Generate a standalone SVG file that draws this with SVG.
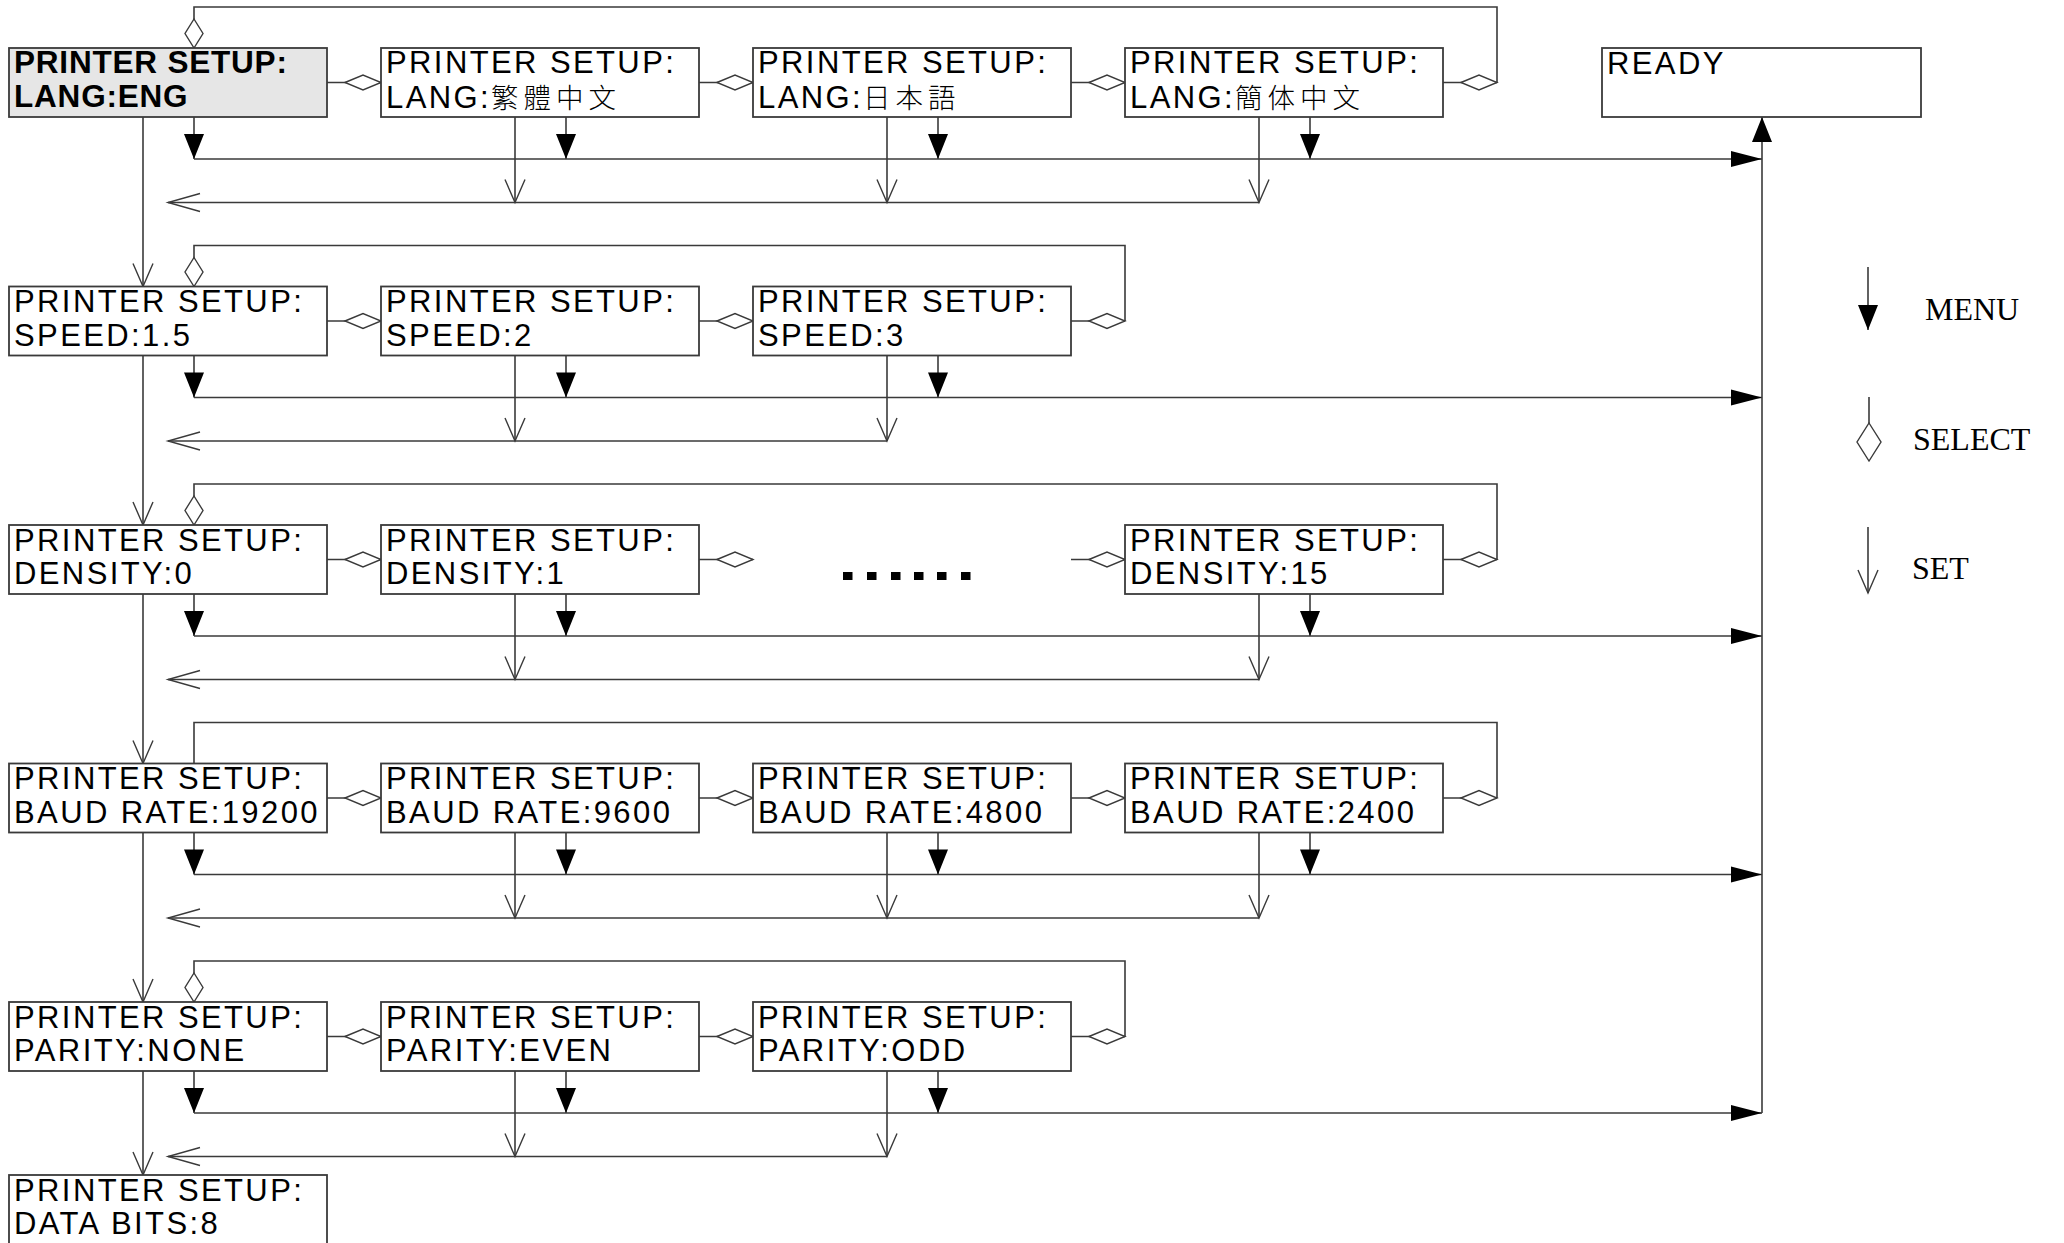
<svg xmlns="http://www.w3.org/2000/svg" width="2064" height="1243" viewBox="0 0 2064 1243">
<style>
.bg{fill:#ffffff}
.box{fill:#ffffff;stroke:#3a3a3a;stroke-width:1.8}
.sel{fill:#e6e6e6}
.t{font-family:"Liberation Sans","Noto Sans CJK TC",sans-serif;font-size:31px;letter-spacing:2.4px;fill:#000}
.cjk{font-size:27.5px;letter-spacing:5px;font-weight:300}
.tb{font-family:"Liberation Sans",sans-serif;font-size:31.5px;font-weight:bold;letter-spacing:0.8px;fill:#000}
.lg{font-family:"Liberation Serif",serif;font-size:32px;fill:#000}
.ln{fill:none;stroke:#3a3a3a;stroke-width:1.6}
.dia{marker-end:url(#dia)}
.diav{marker-end:url(#diav)}
.menu{marker-end:url(#menuHead)}
.menul{marker-end:url(#menuLong)}
.set{marker-end:url(#setHead)}
.ret{marker-end:url(#retHead)}
.dot{fill:#000}
</style>
<defs>
<marker id="dia" markerUnits="userSpaceOnUse" markerWidth="38" markerHeight="17" refX="36" refY="7.5" orient="auto" overflow="visible">
<path d="M0,7.5 L18,0 L36,7.5 L18,15 Z" fill="#fff" stroke="#3a3a3a" stroke-width="1.4"/>
</marker>
<marker id="diav" markerUnits="userSpaceOnUse" markerWidth="30" markerHeight="20" refX="29" refY="9" orient="auto" overflow="visible">
<path d="M0,9 L14.5,0 L29,9 L14.5,18 Z" fill="#fff" stroke="#3a3a3a" stroke-width="1.4"/>
</marker>
<marker id="menuHead" markerUnits="userSpaceOnUse" markerWidth="25" markerHeight="20" refX="25" refY="10" orient="auto" overflow="visible">
<path d="M0,0 L25,10 L0,20 Z" fill="#000"/>
</marker>
<marker id="menuLong" markerUnits="userSpaceOnUse" markerWidth="31" markerHeight="16" refX="31" refY="8" orient="auto" overflow="visible">
<path d="M0,0 L31,8 L0,16 Z" fill="#000"/>
</marker>
<marker id="setHead" markerUnits="userSpaceOnUse" markerWidth="24" markerHeight="22" refX="23" refY="10" orient="auto" overflow="visible">
<path d="M0,0 L23,10 L0,20" fill="none" stroke="#3a3a3a" stroke-width="1.4"/>
</marker>
<marker id="retHead" markerUnits="userSpaceOnUse" markerWidth="33" markerHeight="20" refX="32" refY="9" orient="auto" overflow="visible">
<path d="M0,0 L32,9 L0,18" fill="none" stroke="#3a3a3a" stroke-width="1.4"/>
</marker>
</defs>
<rect class="bg" x="0" y="0" width="2064" height="1243"/>

<g id="connectors">
<!-- row 1 -->
<path class="ln dia" d="M327,82.5 H381"/>
<path class="ln dia" d="M699,82.5 H753"/>
<path class="ln dia" d="M1071,82.5 H1125"/>
<path class="ln dia" d="M1443,82.5 H1497"/>
<path class="ln diav" d="M1497,82.5 V7 H194 V48"/>
<path class="ln menu" d="M194,117 V159"/>
<path class="ln menu" d="M566,117 V159"/>
<path class="ln menu" d="M938,117 V159"/>
<path class="ln menu" d="M1310,117 V159"/>
<path class="ln menul" d="M194,159 H1762"/>
<path class="ln set" d="M515,117 V202.5"/>
<path class="ln set" d="M887,117 V202.5"/>
<path class="ln set" d="M1259,117 V202.5"/>
<path class="ln ret" d="M1259,202.5 H168"/>
<path class="ln set" d="M143,117 V286.5"/>
<!-- row 2 -->
<path class="ln dia" d="M327,321 H381"/>
<path class="ln dia" d="M699,321 H753"/>
<path class="ln dia" d="M1071,321 H1125"/>
<path class="ln diav" d="M1125,321 V245.5 H194 V286.5"/>
<path class="ln menu" d="M194,355.5 V397.5"/>
<path class="ln menu" d="M566,355.5 V397.5"/>
<path class="ln menu" d="M938,355.5 V397.5"/>
<path class="ln menul" d="M194,397.5 H1762"/>
<path class="ln set" d="M515,355.5 V441"/>
<path class="ln set" d="M887,355.5 V441"/>
<path class="ln ret" d="M887,441 H168"/>
<path class="ln set" d="M143,355.5 V525"/>
<!-- row 3 -->
<path class="ln dia" d="M327,559.5 H381"/>
<path class="ln dia" d="M699,559.5 H753"/>
<path class="ln dia" d="M1071,559.5 H1125"/>
<path class="ln dia" d="M1443,559.5 H1497"/>
<path class="ln diav" d="M1497,559.5 V484 H194 V525"/>
<path class="ln menu" d="M194,594 V636"/>
<path class="ln menu" d="M566,594 V636"/>
<path class="ln menu" d="M1310,594 V636"/>
<path class="ln menul" d="M194,636 H1762"/>
<path class="ln set" d="M515,594 V679.5"/>
<path class="ln set" d="M1259,594 V679.5"/>
<path class="ln ret" d="M1259,679.5 H168"/>
<path class="ln set" d="M143,594 V763.5"/>
<!-- row 4 -->
<path class="ln dia" d="M327,798 H381"/>
<path class="ln dia" d="M699,798 H753"/>
<path class="ln dia" d="M1071,798 H1125"/>
<path class="ln dia" d="M1443,798 H1497"/>
<path class="ln" d="M1497,798 V722.5 H194 V763.5"/>
<path class="ln menu" d="M194,832.5 V874.5"/>
<path class="ln menu" d="M566,832.5 V874.5"/>
<path class="ln menu" d="M938,832.5 V874.5"/>
<path class="ln menu" d="M1310,832.5 V874.5"/>
<path class="ln menul" d="M194,874.5 H1762"/>
<path class="ln set" d="M515,832.5 V918"/>
<path class="ln set" d="M887,832.5 V918"/>
<path class="ln set" d="M1259,832.5 V918"/>
<path class="ln ret" d="M1259,918 H168"/>
<path class="ln set" d="M143,832.5 V1002"/>
<!-- row 5 -->
<path class="ln dia" d="M327,1036.5 H381"/>
<path class="ln dia" d="M699,1036.5 H753"/>
<path class="ln dia" d="M1071,1036.5 H1125"/>
<path class="ln diav" d="M1125,1036.5 V961 H194 V1002"/>
<path class="ln menu" d="M194,1071 V1113"/>
<path class="ln menu" d="M566,1071 V1113"/>
<path class="ln menu" d="M938,1071 V1113"/>
<path class="ln menul" d="M194,1113 H1762"/>
<path class="ln set" d="M515,1071 V1156.5"/>
<path class="ln set" d="M887,1071 V1156.5"/>
<path class="ln ret" d="M887,1156.5 H168"/>
<path class="ln set" d="M143,1071 V1175"/>
<!-- to READY -->
<path class="ln menu" d="M1762,1113 V117"/>
</g>

<g id="ellipsis">
<rect class="dot" x="843" y="572" width="9.5" height="8"/>
<rect class="dot" x="867" y="572" width="9.5" height="8"/>
<rect class="dot" x="891" y="572" width="9.5" height="8"/>
<rect class="dot" x="914" y="572" width="9.5" height="8"/>
<rect class="dot" x="937" y="572" width="9.5" height="8"/>
<rect class="dot" x="961" y="572" width="9.5" height="8"/>
</g>

<g id="n-lang-eng"><rect class="box sel" x="9" y="48" width="318" height="69"/><text class="tb" x="14" y="73">PRINTER SETUP:</text><text class="tb" x="14" y="107">LANG:ENG</text></g>
<g id="n-lang-tc"><rect class="box" x="381" y="48" width="318" height="69"/><text class="t" x="386" y="72.5">PRINTER SETUP:</text><text class="t" x="386" y="108">LANG:<tspan class="cjk" font-family="'Noto Sans CJK TC',sans-serif">繁體中文</tspan></text></g>
<g id="n-lang-jp"><rect class="box" x="753" y="48" width="318" height="69"/><text class="t" x="758" y="72.5">PRINTER SETUP:</text><text class="t" x="758" y="108">LANG:<tspan class="cjk" font-family="'Noto Sans CJK JP',sans-serif">日本語</tspan></text></g>
<g id="n-lang-sc"><rect class="box" x="1125" y="48" width="318" height="69"/><text class="t" x="1130" y="72.5">PRINTER SETUP:</text><text class="t" x="1130" y="108">LANG:<tspan class="cjk" font-family="'Noto Sans CJK TC',sans-serif">簡体中文</tspan></text></g>
<g id="n-ready"><rect class="box" x="1602" y="48" width="319" height="69"/><text class="t" x="1607" y="73.5">READY</text></g>

<g id="n-speed-15"><rect class="box" x="9" y="286.5" width="318" height="69"/><text class="t" x="14" y="312">PRINTER SETUP:</text><text class="t" x="14" y="345.5">SPEED:1.5</text></g>
<g id="n-speed-2"><rect class="box" x="381" y="286.5" width="318" height="69"/><text class="t" x="386" y="312">PRINTER SETUP:</text><text class="t" x="386" y="345.5">SPEED:2</text></g>
<g id="n-speed-3"><rect class="box" x="753" y="286.5" width="318" height="69"/><text class="t" x="758" y="312">PRINTER SETUP:</text><text class="t" x="758" y="345.5">SPEED:3</text></g>

<g id="n-density-0"><rect class="box" x="9" y="525" width="318" height="69"/><text class="t" x="14" y="550.5">PRINTER SETUP:</text><text class="t" x="14" y="584">DENSITY:0</text></g>
<g id="n-density-1"><rect class="box" x="381" y="525" width="318" height="69"/><text class="t" x="386" y="550.5">PRINTER SETUP:</text><text class="t" x="386" y="584">DENSITY:1</text></g>
<g id="n-density-15"><rect class="box" x="1125" y="525" width="318" height="69"/><text class="t" x="1130" y="550.5">PRINTER SETUP:</text><text class="t" x="1130" y="584">DENSITY:15</text></g>

<g id="n-baud-19200"><rect class="box" x="9" y="763.5" width="318" height="69"/><text class="t" x="14" y="789">PRINTER SETUP:</text><text class="t" x="14" y="822.5">BAUD RATE:19200</text></g>
<g id="n-baud-9600"><rect class="box" x="381" y="763.5" width="318" height="69"/><text class="t" x="386" y="789">PRINTER SETUP:</text><text class="t" x="386" y="822.5">BAUD RATE:9600</text></g>
<g id="n-baud-4800"><rect class="box" x="753" y="763.5" width="318" height="69"/><text class="t" x="758" y="789">PRINTER SETUP:</text><text class="t" x="758" y="822.5">BAUD RATE:4800</text></g>
<g id="n-baud-2400"><rect class="box" x="1125" y="763.5" width="318" height="69"/><text class="t" x="1130" y="789">PRINTER SETUP:</text><text class="t" x="1130" y="822.5">BAUD RATE:2400</text></g>

<g id="n-parity-none"><rect class="box" x="9" y="1002" width="318" height="69"/><text class="t" x="14" y="1027.5">PRINTER SETUP:</text><text class="t" x="14" y="1061">PARITY:NONE</text></g>
<g id="n-parity-even"><rect class="box" x="381" y="1002" width="318" height="69"/><text class="t" x="386" y="1027.5">PRINTER SETUP:</text><text class="t" x="386" y="1061">PARITY:EVEN</text></g>
<g id="n-parity-odd"><rect class="box" x="753" y="1002" width="318" height="69"/><text class="t" x="758" y="1027.5">PRINTER SETUP:</text><text class="t" x="758" y="1061">PARITY:ODD</text></g>

<g id="n-databits"><rect class="box" x="9" y="1175" width="318" height="69"/><text class="t" x="14" y="1200.5">PRINTER SETUP:</text><text class="t" x="14" y="1234">DATA BITS:8</text></g>

<g id="legend">
<path class="ln menu" d="M1868,267 V330"/>
<text class="lg" x="1925" y="320">MENU</text>
<path class="ln" d="M1869,397 V423"/>
<path d="M1869,423 L1881,442 L1869,461 L1857,442 Z" fill="#fff" stroke="#3a3a3a" stroke-width="1.4"/>
<text class="lg" x="1913" y="450">SELECT</text>
<path class="ln set" d="M1868,527 V593"/>
<text class="lg" x="1912" y="579">SET</text>
</g>
</svg>
